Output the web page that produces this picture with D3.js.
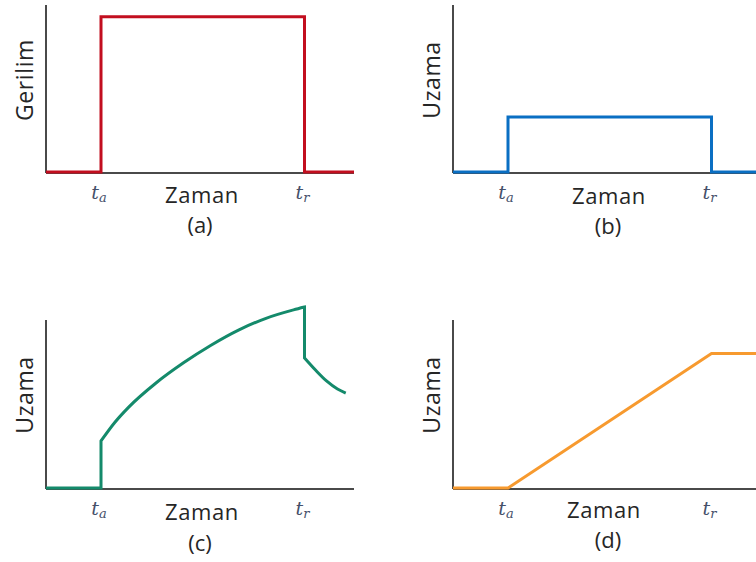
<!DOCTYPE html>
<html>
<head>
<meta charset="utf-8">
<script src="https://cdn.jsdelivr.net/npm/d3@7"></script>
<style>
  html, body { margin: 0; padding: 0; background: #fff; }
  svg { display: block; }
  .lbl { font-family: "Open Sans", sans-serif; fill: #262626; }
  .tick-lbl { font-family: "DejaVu Serif", "Liberation Serif", serif; font-style: italic; fill: #46506a; }
</style>
</head>
<body>
<svg id="chart" width="756" height="562"></svg>
<script>
// Time marks: load applied (t_a) and removed (t_r)
const timeMarks = [1, 4.7];
const timeMarkNames = [["t", "a"], ["t", "r"]];
const timeDomain = [0, 5.6];

// (a) applied stress
const stressT = [0, 1, 1, 4.7, 4.7, 5.6];
const stressV = [0, 0, 0.93, 0.93, 0, 0];

// (b) elastic strain
const elasticT = [0, 1, 1, 4.7, 4.7, 5.6];
const elasticV = [0, 0, 0.33, 0.33, 0, 0];

// (c) viscoelastic strain: instant jump, creep, instant drop, recovery
const viscoStepT = [0, 1, 1];
const viscoStepV = [0, 0, 0.28];
const creepT = [1, 1.25, 1.5, 2.0, 2.5, 3.0, 3.5, 4.0, 4.5, 4.7];
const creepV = [0.28, 0.39, 0.48, 0.625, 0.745, 0.85, 0.94, 1.01, 1.06, 1.077];
const recoveryT = [4.7, 4.9, 5.1, 5.3, 5.45];
const recoveryV = [0.774, 0.702, 0.637, 0.589, 0.565];

// (d) viscous strain
const viscousT = [0, 1, 4.7, 5.6];
const viscousV = [0, 0, 0.8, 0.8];

const xTitle = "Zaman";
const yTitles = ["Gerilim", "Uzama", "Uzama", "Uzama"];
const panelTags = ["(a)", "(b)", "(c)", "(d)"];
const colors = ["#c20e1f", "#0a6fc3", "#148a6b", "#f79a2f"];

const svg = d3.select("#chart");

const zip = (t, v) => t.map((d, i) => [d, v[i]]);

const panels = [
  { x0: 46,  base: 172, top: 5,   titleDy: 31, tagDy: 61, midX: 202, tagX: 200,
    segs: [{ pts: zip(stressT, stressV) }] },
  { x0: 453, base: 172, top: 5,   titleDy: 32, tagDy: 62, midX: 609, tagX: 608,
    segs: [{ pts: zip(elasticT, elasticV) }] },
  { x0: 46,  base: 488, top: 320, titleDy: 32, tagDy: 63, midX: 202, tagX: 200,
    segs: [
      { pts: zip(viscoStepT, viscoStepV) },
      { pts: zip(creepT, creepV), curve: d3.curveMonotoneX },
      { pts: zip(recoveryT, recoveryV), curve: d3.curveMonotoneX }
    ] },
  { x0: 453, base: 488, top: 320, titleDy: 30, tagDy: 60, midX: 604, tagX: 608,
    segs: [{ pts: zip(viscousT, viscousV) }] }
];

panels.forEach((p, i) => {
  const x = d3.scaleLinear().domain(timeDomain).range([p.x0, p.x0 + 308]);
  const y = d3.scaleLinear().domain([0, 1]).range([p.base, p.top]);
  const g = svg.append("g");

  // axes
  g.append("line")
    .attr("x1", x(0)).attr("x2", x(0))
    .attr("y1", y(1)).attr("y2", y(0) + 1)
    .attr("stroke", "#4a4a4a").attr("stroke-width", 2);
  g.append("line")
    .attr("x1", x(0)).attr("x2", x(timeDomain[1]))
    .attr("y1", y(0) + 1).attr("y2", y(0) + 1)
    .attr("stroke", "#4a4a4a").attr("stroke-width", 2);

  // response curve, pieces joined into one path
  let d = "";
  p.segs.forEach((s, k) => {
    const gen = d3.line().x(v => x(v[0])).y(v => y(v[1])).curve(s.curve || d3.curveLinear);
    let part = gen(s.pts);
    if (k > 0) part = "L" + part.slice(1);
    d += part;
  });
  g.append("path")
    .attr("d", d)
    .attr("fill", "none")
    .attr("stroke", colors[i])
    .attr("stroke-width", 3)
    .attr("stroke-linejoin", "miter");

  // time mark labels
  timeMarks.forEach((tm, j) => {
    const t = g.append("text").attr("class", "tick-lbl")
      .attr("x", x(tm) - 2).attr("y", y(0) + 27)
      .attr("text-anchor", "middle");
    t.append("tspan").attr("font-size", 19).text(timeMarkNames[j][0]);
    t.append("tspan").attr("font-size", 13).attr("dy", 3).text(timeMarkNames[j][1]);
  });

  // x title and panel tag
  g.append("text").attr("class", "lbl")
    .attr("x", p.midX).attr("y", y(0) + p.titleDy)
    .attr("text-anchor", "middle").attr("font-size", 22)
    .attr("letter-spacing", 0.6)
    .text(xTitle);
  g.append("text").attr("class", "lbl")
    .attr("x", p.tagX).attr("y", y(0) + p.tagDy)
    .attr("text-anchor", "middle").attr("font-size", 22)
    .text(panelTags[i]);

  // y title
  const yMid = i < 2 ? 80 : 395;
  g.append("text").attr("class", "lbl")
    .attr("transform", `translate(${x(0) - 13},${yMid}) rotate(-90)`)
    .attr("text-anchor", "middle").attr("font-size", 23)
    .attr("letter-spacing", 0.6)
    .text(yTitles[i]);
});
</script>
</body>
</html>
